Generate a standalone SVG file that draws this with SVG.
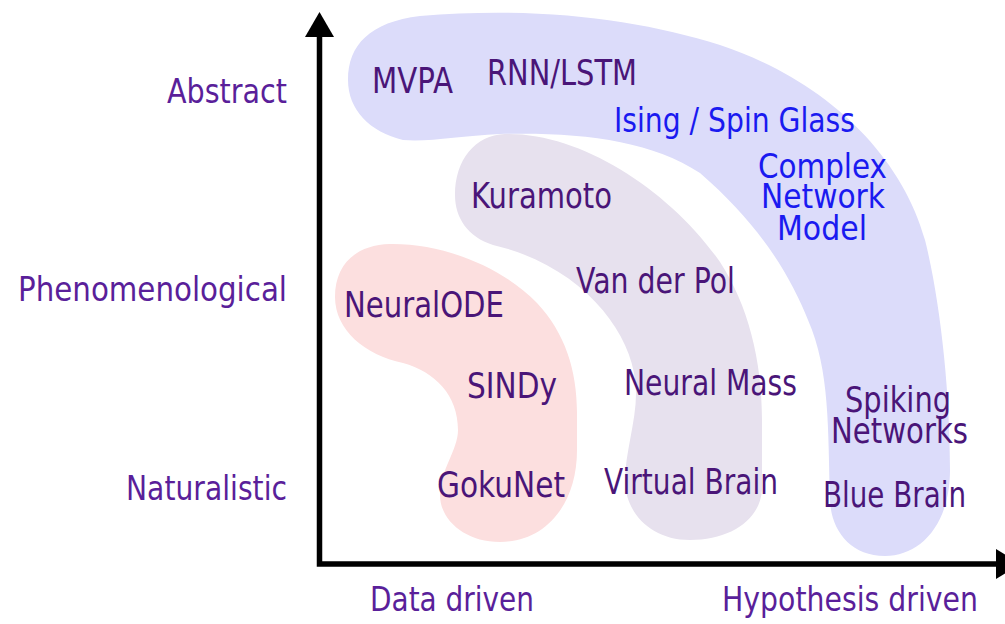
<svg xmlns="http://www.w3.org/2000/svg" width="1005" height="624" viewBox="0 0 1005 624">
  <style>
    text { font-family: "DejaVu Sans", "Liberation Sans", sans-serif; }
    .lbl { font-size: 35px; fill: #4a1578; }
    .blu { font-size: 34px; fill: #1a1af0; }
    .ax { font-size: 33px; fill: #5a1f9a; }
    .axis { stroke: #000; stroke-width: 5.5; fill: none; }
  </style>
  <rect width="1005" height="624" fill="#fff"/>

  <!-- outer band: abstract / hypothesis driven models -->
  <g id="band-hypothesis">
    <path fill="#dcdcfa" d="M 403,140 C 370,132 348,110 348,80 C 348,45 370,22 420,16 C 540,6 640,20 720,45 C 820,78 900,150 925,240 C 940,300 950,390 950,470 C 950,525 920,556 885,556 C 850,556 831,530 830,500 C 828,430 830,370 808,320 C 790,275 760,225 700,173 C 650,140 580,132 500,134 C 460,136 430,142 403,140 Z"/>
    <text class="lbl" x="372" y="93" textLength="81" lengthAdjust="spacingAndGlyphs">MVPA</text>
    <text class="lbl" x="487" y="85" textLength="150" lengthAdjust="spacingAndGlyphs">RNN/LSTM</text>
    <text class="blu" x="614" y="132" textLength="241" lengthAdjust="spacingAndGlyphs">Ising / Spin Glass</text>
    <text class="blu" x="758" y="178" textLength="129" lengthAdjust="spacingAndGlyphs">Complex</text>
    <text class="blu" x="761" y="208" textLength="124" lengthAdjust="spacingAndGlyphs">Network</text>
    <text class="blu" x="777" y="240" textLength="90" lengthAdjust="spacingAndGlyphs">Model</text>
    <text class="lbl" x="845" y="412" textLength="106" lengthAdjust="spacingAndGlyphs">Spiking</text>
    <text class="lbl" x="831" y="443" textLength="137" lengthAdjust="spacingAndGlyphs">Networks</text>
    <text class="lbl" x="823" y="507" textLength="143" lengthAdjust="spacingAndGlyphs">Blue Brain</text>
  </g>

  <!-- middle band: phenomenological models -->
  <g id="band-phenomenological">
    <path fill="#e7e1ee" d="M 493,245 C 468,237 455,218 455,195 C 455,160 475,135 505,134 C 580,132 670,190 720,262 C 748,305 762,360 762,420 L 762,490 C 760,520 730,540 690,540 C 650,540 625,512 625,480 C 625,450 640,410 635,380 C 630,330 580,265 493,245 Z"/>
    <text class="lbl" x="471" y="208" textLength="141" lengthAdjust="spacingAndGlyphs">Kuramoto</text>
    <text class="lbl" x="576" y="293" textLength="159" lengthAdjust="spacingAndGlyphs">Van der Pol</text>
    <text class="lbl" x="624" y="395" textLength="173" lengthAdjust="spacingAndGlyphs">Neural Mass</text>
    <text class="lbl" x="604" y="494" textLength="174" lengthAdjust="spacingAndGlyphs">Virtual Brain</text>
  </g>

  <!-- inner band: data driven models -->
  <g id="band-data">
    <path fill="#fcdfdf" d="M 403,363 C 365,355 335,330 335,297 C 335,265 355,245 390,244 C 440,243 500,265 537,303 C 565,333 577,370 577,413 L 577,450 C 577,505 545,542 500,542 C 465,542 440,520 440,495 C 440,470 458,450 458,430 C 458,395 435,372 403,363 Z"/>
    <text class="lbl" x="344" y="317" textLength="160" lengthAdjust="spacingAndGlyphs">NeuralODE</text>
    <text class="lbl" x="467" y="398" textLength="90" lengthAdjust="spacingAndGlyphs">SINDy</text>
    <text class="lbl" x="437" y="497" textLength="128" lengthAdjust="spacingAndGlyphs">GokuNet</text>
  </g>

  <!-- axes -->
  <g id="axes">
    <path class="axis" d="M 319.5,36 L 319.5,564 L 998,564"/>
    <polygon points="319.5,12 305,37 334,37" fill="#000"/>
    <polygon points="996,549 1021,564 996,579" fill="#000"/>
  </g>

  <!-- axis labels -->
  <g id="axis-labels">
    <text class="ax" x="167" y="103" textLength="120" lengthAdjust="spacingAndGlyphs">Abstract</text>
    <text class="ax" x="18" y="301" textLength="269" lengthAdjust="spacingAndGlyphs">Phenomenological</text>
    <text class="ax" x="126" y="500" textLength="161" lengthAdjust="spacingAndGlyphs">Naturalistic</text>
    <text class="ax" x="370" y="611" textLength="164" lengthAdjust="spacingAndGlyphs">Data driven</text>
    <text class="ax" x="722" y="611" textLength="256" lengthAdjust="spacingAndGlyphs">Hypothesis driven</text>
  </g>
</svg>
